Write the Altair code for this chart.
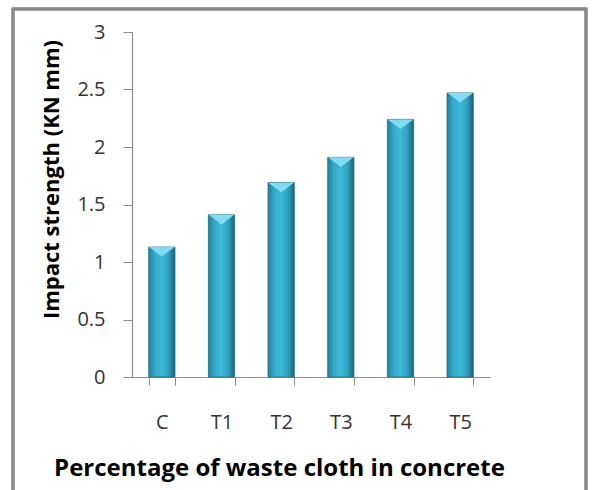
import altair as alt
import pandas as pd

# Impact strength per mix
mixes = ["C", "T1", "T2", "T3", "T4", "T5"]
strength = [1.13, 1.41, 1.69, 1.91, 2.24, 2.47]
y_ticks = [0, 0.5, 1, 1.5, 2, 2.5, 3]

df = pd.DataFrame({"mix": mixes, "strength": strength})

FONT = "Open Sans"
AXIS_GRAY = "#8c8c8c"

x_enc = alt.X(
    "mix:N",
    sort=mixes,
    scale=alt.Scale(paddingInner=0.56, paddingOuter=0.28),
    axis=alt.Axis(
        title="Percentage of waste cloth in concrete",
        titleFont=FONT, titleFontSize=24, titleFontWeight="bold", titleColor="#000000",
        titleX=147, titleY=98, titleAlign="center", titleBaseline="alphabetic",
        labelFont=FONT, labelFontSize=20, labelColor="#333333", labelPadding=27,
        labelAngle=0, tickBand="extent", tickSize=8, tickColor=AXIS_GRAY,
        domainColor=AXIS_GRAY, domainWidth=1.2,
    ),
)

y_enc = alt.Y(
    "strength:Q",
    scale=alt.Scale(domain=[0, 3], nice=False),
    axis=alt.Axis(
        title="Impact strength (KN mm)", values=y_ticks, format="~g",
        titleFont=FONT, titleFontSize=22, titleFontWeight="bold", titleColor="#000000",
        titleX=-74, titleY=147, titleAngle=-90, titleAlign="center", titleBaseline="alphabetic",
        labelFont=FONT, labelFontSize=20, labelColor="#333333", labelPadding=18,
        tickSize=9, tickColor=AXIS_GRAY, domainColor=AXIS_GRAY, domainWidth=1.2,
        grid=False,
    ),
)

bar_fill = alt.Gradient(
    gradient="linear", x1=0, x2=1, y1=0, y2=0,
    stops=[
        alt.GradientStop(color="#22809a", offset=0),
        alt.GradientStop(color="#36abca", offset=0.25),
        alt.GradientStop(color="#3db9d9", offset=0.5),
        alt.GradientStop(color="#31a3c1", offset=0.75),
        alt.GradientStop(color="#1b6478", offset=1),
    ],
)

bars = alt.Chart(df).mark_bar(fill=bar_fill, stroke="#1d6c82", strokeWidth=0.8).encode(
    x=x_enc, y=y_enc
)

# light bevel at the top of each bar
cap = alt.Chart(df).mark_point(
    shape="M-1,0 L1,0 L0,0.75 Z", size=650, filled=True,
    color="#7fdcf2", opacity=1, strokeWidth=0,
).encode(x=alt.X("mix:N", sort=mixes), y="strength:Q")

frame = alt.Chart(df).mark_rect(
    fill=None, stroke="#8a8a8a", strokeWidth=2.5
).encode(
    x=alt.value(-119), x2=alt.value(454), y=alt.value(-23), y2=alt.value(500)
)

chart = alt.layer(frame, bars, cap).properties(
    width=358, height=345,
    background="#ffffff",
    padding={"left": 132, "top": 32, "right": 102, "bottom": 113},
    autosize=alt.AutoSizeParams(type="none"),
).configure_view(strokeWidth=0)

chart.save("out.html", embed_options={"renderer": "svg", "actions": False})
